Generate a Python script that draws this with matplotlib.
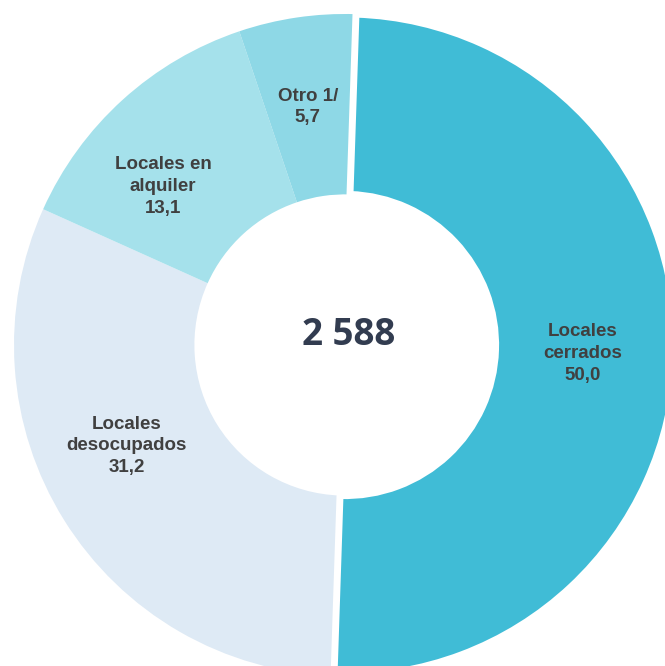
import matplotlib.pyplot as plt

# datos
categorias = ["Locales\ncerrados", "Locales\ndesocupados", "Locales en\nalquiler", "Otro 1/"]
valores = [50.0, 31.2, 13.1, 5.7]
total = "2 588"

colores = ["#40BCD6", "#DEEAF5", "#A5E1EB", "#8ED8E6"]
# posicion de etiquetas (coords del eje, radio 1)
pos_etiquetas = [(0.719, -0.027), (-0.659, -0.305), (-0.550, 0.480), (-0.112, 0.719)]

fig = plt.figure(figsize=(6.65, 6.66), dpi=100)
ax = fig.add_axes([0.02105, -0.015, 0.9955, 0.994])

wedges, _ = ax.pie(valores, colors=colores, startangle=88.1, counterclock=False,
                   radius=1, wedgeprops=dict(width=1 - 0.455, linewidth=0))
# linea blanca solo alrededor de "cerrados"
wedges[0].set_edgecolor("white")
wedges[0].set_linewidth(5)
wedges[0].set_zorder(3)

for cat, v, (x, y) in zip(categorias, valores, pos_etiquetas):
    txt = cat + "\n" + f"{v:.1f}".replace(".", ",")
    ax.text(x, y, txt, ha="center", va="center", fontsize=13.5, fontweight="bold",
            color="#404040", family="Liberation Sans", linespacing=1.38, zorder=5)

ax.text(0.01, 0.03, total, ha="center", va="center", fontsize=26.5, fontweight="bold",
        color="#323C50", family="Open Sans", zorder=5)

ax.set_xlim(-1, 1)
ax.set_ylim(-1, 1)
ax.axis("off")

fig.savefig("out.png", dpi=100)
